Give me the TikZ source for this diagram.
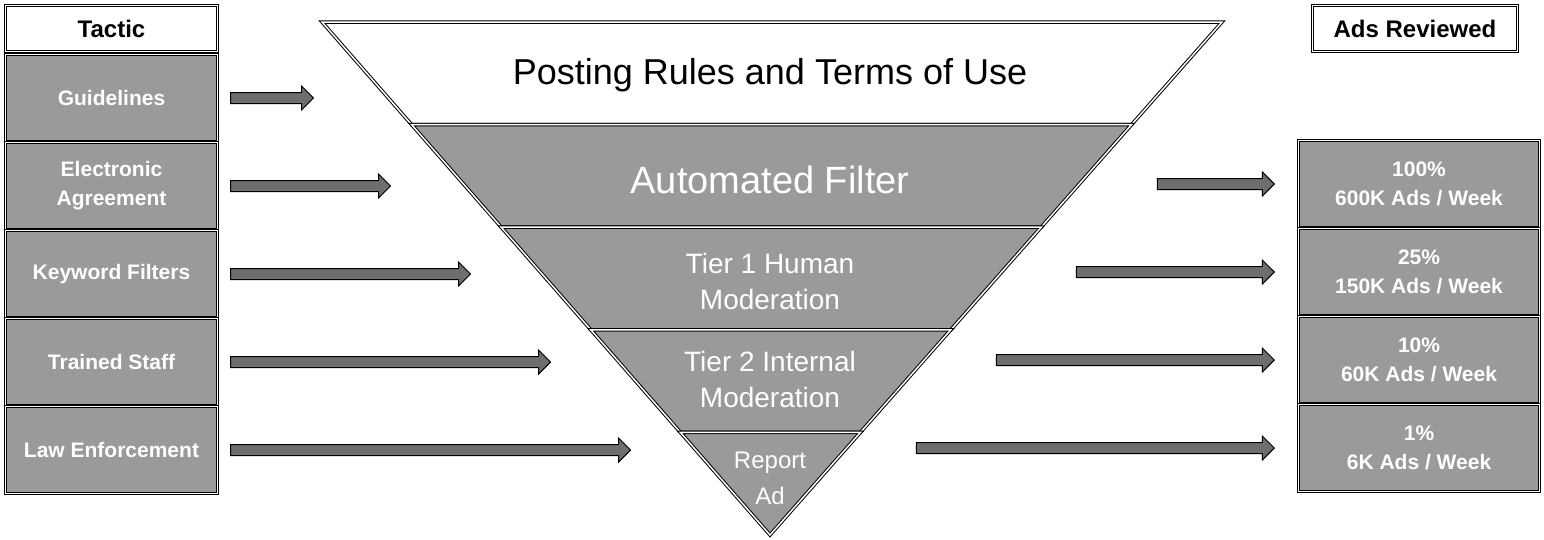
\documentclass[tikz,border=0pt]{standalone}
\usepackage{fontspec}
\setmainfont{Liberation Sans}
\usetikzlibrary{positioning,shapes.arrows,calc}
\definecolor{dotgray}{HTML}{9A9A9A}
\definecolor{arrgray}{HTML}{6E6E6E}

\begin{document}
\begin{tikzpicture}[x=1pt,y=-1pt,
 frame/.style={draw=black,double=white,double distance=1.5pt,line width=1pt},
 head/.style={frame,fill=white,minimum width=212pt,minimum height=46pt,font=\fontsize{24}{28}\selectfont\bfseries},
 tac/.style={frame,fill=dotgray,text=white,minimum width=212pt,minimum height=87pt,align=center,font=\fontsize{21}{29}\selectfont\bfseries},
 rev/.style={tac,minimum width=241pt},
 fat/.style={single arrow,draw=black,fill=arrgray,inner sep=5pt,single arrow head extend=6.5pt,line width=1pt},
 layer/.style={frame,fill=dotgray},
 ltext/.style={text=white,align=center}]
\useasboundingbox (0,0) rectangle (1544,539);
% tactic column
\node[head](tactic) at (111.5,28.5){Tactic};
\node[tac,below=2pt of tactic](t1){Guidelines};
\node[tac,below=0pt of t1](t2){Electronic\\Agreement};
\node[tac,below=0pt of t2](t3){Keyword Filters};
\node[tac,below=0pt of t3](t4){Trained Staff};
\node[tac,below=0pt of t4](t5){Law Enforcement};
% reviewed column
\node[head,minimum width=205pt](ads) at (1415,28.5){Ads Reviewed};
\node[rev](r1) at (1419,184){100\%\\600K Ads / Week};
\node[rev,below=0pt of r1](r2){25\%\\150K Ads / Week};
\node[rev,below=0pt of r2](r3){10\%\\60K Ads / Week};
\node[rev,below=0pt of r3](r4){1\%\\6K Ads / Week};
% funnel
\coordinate(ftl) at (322,22);
\coordinate(ftr) at (1222,22);
\coordinate(tip) at (770,535);
\foreach \a/\b/\c in {0/0.2/white,0.2/0.4/dotgray,0.4/0.6/dotgray,0.6/0.8/dotgray}
 \draw[layer,fill=\c] ($(ftl)!\a!(tip)$) -- ($(ftr)!\a!(tip)$) -- ($(ftr)!\b!(tip)$) -- ($(ftl)!\b!(tip)$) -- cycle;
\draw[layer] ($(ftl)!0.8!(tip)$) -- ($(ftr)!0.8!(tip)$) -- (tip) -- cycle;
\node[font=\fontsize{36}{40}\selectfont](rules) at (770,75){Posting Rules and Terms of Use};
\node[ltext,font=\fontsize{38}{40}\selectfont](filter) at (770,180){Automated Filter};
\node[ltext,font=\fontsize{28}{36}\selectfont](tier1) at (770,281){Tier 1 Human\\Moderation};
\node[ltext,font=\fontsize{28}{36}\selectfont](tier2) at (770,379){Tier 2 Internal\\Moderation};
\node[ltext,font=\fontsize{24}{36}\selectfont](report) at (770,478){Report\\Ad};
% arrows
\node[fat,minimum height=83pt,right=12pt of t1](a1){};
\node[fat,minimum height=160pt,right=12pt of t2](a2){};
\node[fat,minimum height=240pt,right=12pt of t3](a3){};
\node[fat,minimum height=320pt,right=12pt of t4](a4){};
\node[fat,minimum height=400pt,right=12pt of t5](a5){};
\node[fat,minimum height=117pt,left=23pt of r1](b1){};
\node[fat,minimum height=198pt,left=23pt of r2](b2){};
\node[fat,minimum height=278pt,left=23pt of r3](b3){};
\node[fat,minimum height=358pt,left=23pt of r4](b4){};
\end{tikzpicture}
\end{document}
